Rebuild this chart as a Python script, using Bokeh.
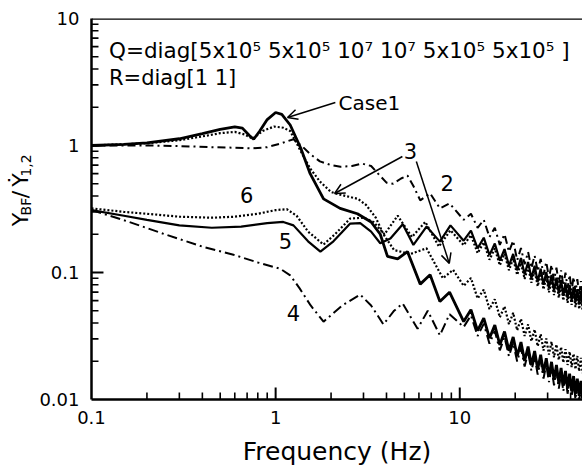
import math
from bokeh.plotting import figure
from bokeh.layouts import row
from bokeh.models import Label, Arrow, OpenHead, Span, FixedTicker, CustomJSTickFormatter
from bokeh.embed import file_html
from bokeh.resources import INLINE

FONT = "DejaVu Sans"

# ---------------- data (frequency in Hz, response ratio) ----------------
# low / mid frequency part of each case
case1_lf = [0.1, 0.15, 0.2, 0.3, 0.4, 0.5, 0.6, 0.66, 0.72, 0.76, 0.82, 0.9, 1.0, 1.08, 1.2, 1.37, 1.54, 1.82,
            2.24, 2.78, 3.3, 3.7, 4.05, 4.6, 5.2, 6.1, 6.9, 7.8, 8.8]
case1_lv = [1.0, 1.02, 1.05, 1.13, 1.24, 1.34, 1.4, 1.37, 1.2, 1.12, 1.3, 1.6, 1.82, 1.76, 1.45, 0.95, 0.6, 0.38,
            0.32, 0.29, 0.25, 0.2, 0.134, 0.128, 0.146, 0.081, 0.096, 0.059, 0.07]

case2_lf = [0.1, 0.2, 0.3, 0.45, 0.6, 0.75, 0.9, 1.05, 1.25, 1.4, 1.55, 1.74, 2.0, 2.25, 2.6, 2.95, 3.3, 3.6,
            4.0, 4.35, 4.8, 5.2, 5.6, 6.1, 6.9, 7.8, 8.8]
case2_lv = [1.0, 1.0, 0.99, 0.97, 0.96, 0.95, 0.97, 1.03, 1.12, 0.98, 0.85, 0.75, 0.7, 0.68, 0.69, 0.72, 0.69, 0.6,
            0.51, 0.5, 0.55, 0.58, 0.48, 0.37, 0.42, 0.32, 0.35]

case3_lf = [0.1, 0.2, 0.3, 0.4, 0.5, 0.6, 0.68, 0.75, 0.85, 0.98, 1.1, 1.2, 1.37, 1.54, 1.74, 2.0, 2.24, 2.8,
            3.1, 3.5, 3.85, 4.4, 5.4, 6.6, 8.1, 9.2]
case3_lv = [1.0, 1.04, 1.1, 1.18, 1.25, 1.28, 1.22, 1.13, 1.3, 1.41, 1.38, 1.3, 0.9, 0.66, 0.52, 0.43, 0.41, 0.38,
            0.34, 0.27, 0.2, 0.15, 0.14, 0.155, 0.09, 0.105]

case4_lf = [0.1, 0.158, 0.25, 0.4, 0.59, 0.8, 1.06, 1.2, 1.35, 1.55, 1.82, 2.3, 2.88, 3.3, 3.85, 4.4, 4.9, 5.9,
            6.7, 7.8, 8.8]
case4_lv = [0.31, 0.252, 0.2, 0.16, 0.138, 0.12, 0.107, 0.095, 0.075, 0.055, 0.041, 0.055, 0.067, 0.055, 0.039,
            0.05, 0.057, 0.036, 0.05, 0.032, 0.047]

case5_lf = [0.1, 0.15, 0.2, 0.3, 0.45, 0.65, 0.9, 1.1, 1.25, 1.5, 1.75, 2.06, 2.54, 2.88, 3.3, 3.7, 4.2, 4.9,
            5.6, 6.6, 7.8, 8.9]
case5_lv = [0.31, 0.28, 0.26, 0.235, 0.225, 0.23, 0.245, 0.25, 0.235, 0.176, 0.146, 0.176, 0.243, 0.245, 0.21,
            0.17, 0.185, 0.24, 0.165, 0.23, 0.175, 0.235]

case6_lf = [0.1, 0.15, 0.2, 0.3, 0.45, 0.6, 0.8, 1.0, 1.15, 1.3, 1.5, 1.82, 2.1, 2.54, 3.0, 3.4, 3.9, 4.6, 5.5,
            6.5, 7.7, 8.9]
case6_lv = [0.32, 0.3, 0.29, 0.275, 0.27, 0.275, 0.29, 0.31, 0.315, 0.28, 0.21, 0.166, 0.2, 0.266, 0.27, 0.25,
            0.2, 0.28, 0.19, 0.25, 0.16, 0.215]

# high-frequency ripple part (shared frequencies, one value list per case)
hf_f = [10.5, 11.5, 12.5, 13.5, 14.5, 15.5, 16.5, 17.5, 18.5, 19.5, 20.5, 21.5, 22.5, 23.5, 24.5, 25.5, 26.5,
        27.5, 28.5, 29.5, 30.5, 31.5, 32.5, 33.5, 34.5, 35.5, 36.5, 37.5, 38.5, 39.5, 40.5, 41.5, 42.5, 43.5,
        44.5, 45.5, 46.5]
case1_hv = [0.0411, 0.0509, 0.0349, 0.0438, 0.0304, 0.0385, 0.0269, 0.0343, 0.0242, 0.0311, 0.0220, 0.0283,
            0.0201, 0.0261, 0.0186, 0.0241, 0.0173, 0.0225, 0.0162, 0.0211, 0.0151, 0.0198, 0.0143, 0.0187,
            0.0135, 0.0177, 0.0128, 0.0168, 0.0122, 0.0160, 0.0116, 0.0153, 0.0111, 0.0146, 0.0107, 0.0140, 0.0102]
case2_hv = [0.26, 0.29, 0.225, 0.26, 0.19, 0.225, 0.165, 0.2, 0.146, 0.178, 0.125, 0.156, 0.116, 0.145, 0.108,
            0.136, 0.102, 0.128, 0.096, 0.121, 0.0909, 0.115, 0.0864, 0.109, 0.0824, 0.104, 0.0787, 0.0997,
            0.0754, 0.0958, 0.0724, 0.0921, 0.0697, 0.0886, 0.0672, 0.0855, 0.0648]
case3_hv = [0.0785, 0.0903, 0.0625, 0.0732, 0.0515, 0.0616, 0.0444, 0.0540, 0.0392, 0.0481, 0.0351, 0.0431,
            0.0316, 0.0390, 0.0288, 0.0356, 0.0263, 0.0327, 0.0243, 0.0302, 0.0226, 0.0285, 0.0215, 0.0271,
            0.0205, 0.0259, 0.0195, 0.0249, 0.0187, 0.0238, 0.0180, 0.0229, 0.0173, 0.0220, 0.0167, 0.0213, 0.0161]
case4_hv = [0.0372, 0.0459, 0.0316, 0.0395, 0.0275, 0.0347, 0.0244, 0.0309, 0.0219, 0.0280, 0.0199, 0.0255,
            0.0182, 0.0235, 0.0168, 0.0217, 0.0157, 0.0203, 0.0146, 0.0190, 0.0137, 0.0179, 0.0129, 0.0168,
            0.0122, 0.0160, 0.0116, 0.0152, 0.0111, 0.0144, 0.0105, 0.0138, 0.0100, 0.0132, 0.0097, 0.0126, 0.0093]
case5_hv = [0.178, 0.214, 0.155, 0.188, 0.137, 0.169, 0.124, 0.153, 0.113, 0.140, 0.104, 0.130, 0.0966, 0.121,
            0.0902, 0.113, 0.0847, 0.107, 0.080, 0.101, 0.0758, 0.0956, 0.072, 0.091, 0.0686, 0.0869, 0.0656,
            0.0831, 0.0628, 0.0798, 0.0604, 0.0767, 0.0581, 0.0739, 0.056, 0.0713, 0.054]
case6_hv = [0.164, 0.197, 0.142, 0.173, 0.126, 0.155, 0.114, 0.141, 0.104, 0.129, 0.0957, 0.119, 0.0889, 0.111,
            0.083, 0.104, 0.078, 0.098, 0.0736, 0.0928, 0.0697, 0.0881, 0.0663, 0.0838, 0.0632, 0.080, 0.0603,
            0.0765, 0.0578, 0.0735, 0.0556, 0.0707, 0.0535, 0.068, 0.0515, 0.0656, 0.0497]

x_major = [0.1, 1, 10]
x_minor = [0.2, 0.3, 0.4, 0.5, 0.6, 0.7, 0.8, 0.9, 2, 3, 4, 5, 6, 7, 8, 9, 20, 30, 40]
y_major = [0.01, 0.1, 1, 10]
y_minor = [0.02, 0.03, 0.04, 0.05, 0.06, 0.07, 0.08, 0.09, 0.2, 0.3, 0.4, 0.5, 0.6, 0.7, 0.8, 0.9,
           2, 3, 4, 5, 6, 7, 8, 9]

X_RANGE = (0.1, 46.4)
Y_RANGE = (0.01, 10)

# ---------------- layout ----------------
LW, PW, H = 36, 546, 472
BL, BT, BB = 90 - LW, 18, 73
FRAME_W = PW - BL
FRAME_H = H - BT - BB

p = figure(width=PW, height=H, x_axis_type="log", y_axis_type="log",
           x_range=X_RANGE, y_range=Y_RANGE,
           output_backend="svg", toolbar_location=None,
           min_border_left=BL, min_border_right=0, min_border_top=BT, min_border_bottom=BB)
p.outline_line_color = None
p.grid.grid_line_color = None

for ax in (p.xaxis[0], p.yaxis[0]):
    ax.axis_line_width = 2.5
    ax.axis_line_color = "black"
    ax.major_tick_in = 0
    ax.major_tick_out = 0
    ax.minor_tick_in = 0
    ax.minor_tick_out = 0
    ax.major_label_text_font = FONT
    ax.major_label_text_font_size = "18px"
    ax.major_label_text_color = "black"
    ax.formatter = CustomJSTickFormatter(code="return tick.toString();")

p.xaxis.ticker = FixedTicker(ticks=x_major, minor_ticks=x_minor)
p.yaxis.ticker = FixedTicker(ticks=y_major, minor_ticks=y_minor)
p.xaxis.major_label_standoff = 11
p.yaxis.major_label_standoff = 12
p.xaxis.axis_label = "Frequency (Hz)"
p.xaxis.axis_label_text_font = FONT
p.xaxis.axis_label_text_font_size = "25px"
p.xaxis.axis_label_text_font_style = "normal"
p.xaxis.axis_label_text_color = "black"
p.xaxis.axis_label_standoff = 10

# top frame line
p.add_layout(Span(location=Y_RANGE[1], dimension="width", line_color="black", line_width=2.5))

# inward tick marks, drawn at the tick values
dec_x = FRAME_W / math.log10(X_RANGE[1] / X_RANGE[0])
dec_y = FRAME_H / math.log10(Y_RANGE[1] / Y_RANGE[0])
MAJ, MIN = 12, 7
def xticks(vals, L, w):
    top = Y_RANGE[0] * 10 ** (L / dec_y)
    p.segment(x0=vals, y0=[Y_RANGE[0]] * len(vals), x1=vals, y1=[top] * len(vals), line_color="black", line_width=w)
def yticks(vals, L, w):
    right = X_RANGE[0] * 10 ** (L / dec_x)
    p.segment(x0=[X_RANGE[0]] * len(vals), y0=vals, x1=[right] * len(vals), y1=vals, line_color="black", line_width=w)
xticks(x_major[1:], MAJ, 2)
xticks(x_minor, MIN, 1.6)
yticks(y_major[1:-1], MAJ, 2)
yticks(y_minor, MIN, 1.6)

# curves
p.line(case2_lf + hf_f, case2_lv + case2_hv, line_color="black", line_width=2, line_dash="8 4 2 4")
p.line(case4_lf + hf_f, case4_lv + case4_hv, line_color="black", line_width=2, line_dash="10 4 2 4")
p.line(case3_lf + hf_f, case3_lv + case3_hv, line_color="black", line_width=2.2, line_dash="2 2")
p.line(case6_lf + hf_f, case6_lv + case6_hv, line_color="black", line_width=2.2, line_dash="2 2")
p.line(case5_lf + hf_f, case5_lv + case5_hv, line_color="black", line_width=2.2)
p.line(case1_lf + hf_f, case1_lv + case1_hv, line_color="black", line_width=2.8)

def lab(fig, x, y, t, size="21px", align="center", baseline="middle", **kw):
    fig.add_layout(Label(x=x, y=y, text=t, text_font=FONT, text_font_size=size,
                         text_align=align, text_baseline=baseline, text_color="black", **kw))

lab(p, 0.1244, 5.6, "Q=diag[5x10\u2075 5x10\u2075 10\u2077 10\u2077 5x10\u2075 5x10\u2075 ]", size="21.5px",
    align="left", baseline="alphabetic")
lab(p, 0.1244, 3.37, "R=diag[1 1]", size="21px", align="left", baseline="alphabetic")
lab(p, 2.195, 2.18, "Case1", size="20px", align="left")
lab(p, 5.39, 0.897, "3")
lab(p, 8.55, 0.511, "2")
lab(p, 0.696, 0.411, "6")
lab(p, 1.13, 0.176, "5")
lab(p, 1.25, 0.0476, "4")

def arr(x0, y0, x1, y1):
    p.add_layout(Arrow(end=OpenHead(size=10, line_width=1.5, line_color="black"),
                       x_start=x0, y_start=y0, x_end=x1, y_end=y1,
                       line_width=1.5, line_color="black"))

arr(2.11, 2.18, 1.16, 1.66)
arr(4.88, 0.819, 2.09, 0.419)
arr(5.81, 0.748, 8.77, 0.118)

# ---------------- left strip holding the rotated y-axis title ----------------
lf = figure(width=LW, height=H, x_range=(0, LW), y_range=(0, H),
            output_backend="svg", toolbar_location=None,
            min_border_left=0, min_border_right=0, min_border_top=0, min_border_bottom=0)
lf.axis.visible = False
lf.grid.grid_line_color = None
lf.outline_line_color = None

ang = math.pi / 2
lab(lf, 20, H - 249, "Y", size="22px", angle=ang)
lab(lf, 25, H - 233, "BF", size="14px", angle=ang)
lab(lf, 20, H - 218, "/", size="22px", angle=ang)
lab(lf, 20, H - 200, "\u1E8E", size="22px", angle=ang)
lab(lf, 25, H - 182, "1,2", size="14px", angle=ang)

layout = row(lf, p)
open("out.html", "w").write(file_html(layout, INLINE))
